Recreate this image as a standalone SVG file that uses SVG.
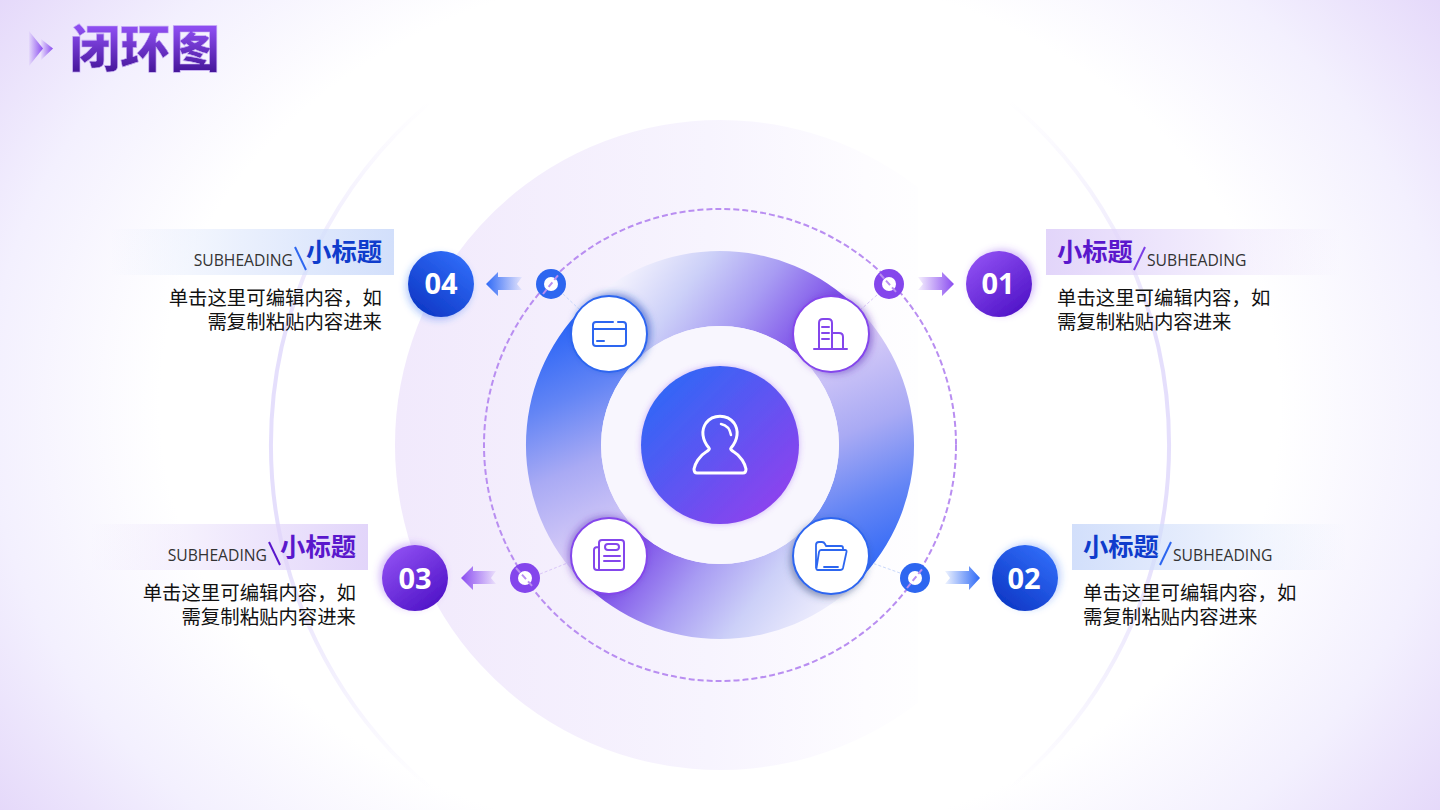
<svg xmlns="http://www.w3.org/2000/svg" width="1440" height="810" viewBox="0 0 1440 810">
<defs>
<radialGradient id="bg" gradientUnits="userSpaceOnUse" cx="0" cy="0" r="1" gradientTransform="translate(720 405) scale(1018 800)">
<stop offset="0.55" stop-color="#fff"/><stop offset="0.72" stop-color="#f3f0fe"/><stop offset="0.87" stop-color="#e5d9fa"/>
</radialGradient>
<linearGradient id="pale" gradientUnits="userSpaceOnUse" x1="395" y1="0" x2="918" y2="0">
<stop offset="0" stop-color="#f1e9fc"/><stop offset="0.6" stop-color="#f7f4fe"/><stop offset="0.9" stop-color="#fdfcff"/><stop offset="1" stop-color="#fefeff"/>
</linearGradient>
<linearGradient id="ring" gradientUnits="userSpaceOnUse" x1="0" y1="100" x2="0" y2="790">
<stop offset="0" stop-color="#e8e2fc" stop-opacity="0"/><stop offset="0.35" stop-color="#e5dffc"/><stop offset="0.65" stop-color="#e5dffc"/><stop offset="1" stop-color="#e8e2fc" stop-opacity="0"/>
</linearGradient>
<linearGradient id="segT" gradientUnits="userSpaceOnUse" x1="618" y1="262" x2="780" y2="383"><stop offset="0" stop-color="#f9f7fe"/><stop offset="0.35" stop-color="#ccd0f8"/><stop offset="0.65" stop-color="#a89cf3"/><stop offset="1" stop-color="#7a4ae8"/></linearGradient>
<linearGradient id="segR" gradientUnits="userSpaceOnUse" x1="830" y1="340" x2="923" y2="554"><stop offset="0" stop-color="#dccff8"/><stop offset="0.4" stop-color="#a9aaf4"/><stop offset="0.7" stop-color="#6385f5"/><stop offset="1" stop-color="#2d66f6"/></linearGradient>
<linearGradient id="segB" gradientUnits="userSpaceOnUse" x1="822" y1="628" x2="660" y2="507"><stop offset="0" stop-color="#f1f0fd"/><stop offset="0.35" stop-color="#ccd0f8"/><stop offset="0.65" stop-color="#a89cf3"/><stop offset="1" stop-color="#7a4ae8"/></linearGradient>
<linearGradient id="segL" gradientUnits="userSpaceOnUse" x1="610" y1="550" x2="522" y2="345"><stop offset="0" stop-color="#dccff8"/><stop offset="0.4" stop-color="#a9aaf4"/><stop offset="0.7" stop-color="#6385f5"/><stop offset="1" stop-color="#2d66f6"/></linearGradient>
<linearGradient id="core" x1="0.15" y1="0.15" x2="0.85" y2="0.85"><stop offset="0" stop-color="#3466f6"/><stop offset="1" stop-color="#8a43ee"/></linearGradient>
<linearGradient id="numP" x1="0.2" y1="0.1" x2="0.8" y2="0.9"><stop offset="0" stop-color="#8c4cf0"/><stop offset="1" stop-color="#5216c9"/></linearGradient>
<linearGradient id="numB" x1="0.8" y1="0.1" x2="0.2" y2="0.9"><stop offset="0" stop-color="#2f6af6"/><stop offset="1" stop-color="#0f3ac8"/></linearGradient>
<linearGradient id="title" gradientUnits="userSpaceOnUse" x1="0" y1="28" x2="0" y2="72"><stop offset="0" stop-color="#8d4df0"/><stop offset="1" stop-color="#46169a"/></linearGradient>
<linearGradient id="chev" x1="0" y1="0" x2="1" y2="0"><stop offset="0" stop-color="#8a4cf0" stop-opacity="0.05"/><stop offset="1" stop-color="#8a4cf0"/></linearGradient>
<linearGradient id="barPR" x1="0" y1="0" x2="1" y2="0"><stop offset="0" stop-color="#e2d5fa"/><stop offset="1" stop-color="#e2d5fa" stop-opacity="0"/></linearGradient>
<linearGradient id="barBR" x1="0" y1="0" x2="1" y2="0"><stop offset="0" stop-color="#d2dffb"/><stop offset="1" stop-color="#d2dffb" stop-opacity="0"/></linearGradient>
<linearGradient id="barPL" x1="1" y1="0" x2="0" y2="0"><stop offset="0" stop-color="#e2d5fa"/><stop offset="1" stop-color="#e2d5fa" stop-opacity="0"/></linearGradient>
<linearGradient id="barBL" x1="1" y1="0" x2="0" y2="0"><stop offset="0" stop-color="#d2dffb"/><stop offset="1" stop-color="#d2dffb" stop-opacity="0"/></linearGradient>
<linearGradient id="arrPR" x1="0" y1="0" x2="1" y2="0"><stop offset="0" stop-color="#8a4cf0" stop-opacity="0.08"/><stop offset="1" stop-color="#8a4cf0"/></linearGradient>
<linearGradient id="arrBR" x1="0" y1="0" x2="1" y2="0"><stop offset="0" stop-color="#2f6af6" stop-opacity="0.08"/><stop offset="1" stop-color="#2f6af6"/></linearGradient>
<linearGradient id="arrPL" x1="1" y1="0" x2="0" y2="0"><stop offset="0" stop-color="#8a4cf0" stop-opacity="0.08"/><stop offset="1" stop-color="#8a4cf0"/></linearGradient>
<linearGradient id="arrBL" x1="1" y1="0" x2="0" y2="0"><stop offset="0" stop-color="#2f6af6" stop-opacity="0.08"/><stop offset="1" stop-color="#2f6af6"/></linearGradient>
<filter id="glowP1" x="-40%" y="-40%" width="180%" height="180%"><feDropShadow dx="3" dy="-2" stdDeviation="3.500" flood-color="#8a4cf0" flood-opacity="0.35"/></filter>
<filter id="glowB2" x="-40%" y="-40%" width="180%" height="180%"><feDropShadow dx="3" dy="-2" stdDeviation="3.500" flood-color="#2f6af6" flood-opacity="0.3"/></filter>
<filter id="glowP3" x="-40%" y="-40%" width="180%" height="180%"><feDropShadow dx="-3" dy="-2" stdDeviation="3.500" flood-color="#8a4cf0" flood-opacity="0.35"/></filter>
<filter id="glowB4" x="-40%" y="-40%" width="180%" height="180%"><feDropShadow dx="-2" dy="3" stdDeviation="3.500" flood-color="#2f6af6" flood-opacity="0.35"/></filter>
<filter id="ic1" x="-40%" y="-40%" width="180%" height="180%"><feDropShadow dx="3" dy="1" stdDeviation="3.500" flood-color="#5a2bb8" flood-opacity="0.5"/></filter>
<filter id="ic2" x="-40%" y="-40%" width="180%" height="180%"><feDropShadow dx="-2" dy="3" stdDeviation="3.500" flood-color="#33467a" flood-opacity="0.5"/></filter>
<filter id="ic3" x="-40%" y="-40%" width="180%" height="180%"><feDropShadow dx="-2" dy="-1" stdDeviation="3.500" flood-color="#5a2bb8" flood-opacity="0.5"/></filter>
<filter id="ic4" x="-40%" y="-40%" width="180%" height="180%"><feDropShadow dx="3" dy="-2" stdDeviation="3.500" flood-color="#1f48c0" flood-opacity="0.55"/></filter>
<filter id="coreGlow" x="-20%" y="-20%" width="140%" height="140%"><feDropShadow dx="0" dy="0" stdDeviation="3" flood-color="#8a4cf0" flood-opacity="0.4"/></filter>
</defs>
<style>
text{font-family:"Noto Sans CJK SC","Noto Sans",sans-serif}
.head{font-size:25.300px;font-weight:700}
.sub{font-family:"Open Sans","Noto Sans",sans-serif;font-size:15.700px;fill:#333}
.body{font-size:19.400px;fill:#111}
.num{font-family:"Open Sans","Noto Sans",sans-serif;font-size:29px;font-weight:700;fill:#fff;text-anchor:middle}
.icS{fill:none;stroke-width:2;stroke-linecap:round;stroke-linejoin:round}
.link{fill:none;stroke-width:1;stroke-dasharray:3 2}
.slash{stroke-width:2;fill:none}
.dash{stroke:#b98ef1;stroke-width:2;stroke-dasharray:6 3;fill:none}
.r{text-anchor:end}
</style>
<rect width="1440" height="810" fill="url(#bg)"/>
<g id="backdrop">
<path d="M 429 103 A 449 449 0 0 0 429 787" fill="none" stroke="url(#ring)" stroke-width="4"/>
<path d="M 1011 103 A 449 449 0 0 1 1011 787" fill="none" stroke="url(#ring)" stroke-width="4"/>
<path d="M918 187.300V702.700A325 325 0 1 1 918 187.300Z" fill="url(#pale)"/>
<path d="M582.8 307.8A194 194 0 0 1 857.2 307.8L804.1 360.9A119 119 0 0 0 635.9 360.9Z" fill="url(#segT)"/>
<path d="M857.2 307.8A194 194 0 0 1 857.2 582.2L804.1 529.1A119 119 0 0 0 804.1 360.9Z" fill="url(#segR)"/>
<path d="M857.2 582.2A194 194 0 0 1 582.8 582.2L635.9 529.1A119 119 0 0 0 804.1 529.1Z" fill="url(#segB)"/>
<path d="M582.8 582.2A194 194 0 0 1 582.8 307.8L635.9 360.9A119 119 0 0 0 635.9 529.1Z" fill="url(#segL)"/>
<circle cx="720" cy="445" r="119" fill="#f8f6fe"/>
<circle cx="720" cy="445" r="236" class="dash"/>
</g>
<g id="connectors">
<path class="link" d="M877 295L858 312" stroke="#d9c6f8"/>
<path class="link" d="M900 573L872 563" stroke="#c9d8fb"/>
<path class="link" d="M540 574L570 562" stroke="#d9c6f8"/>
<path class="link" d="M563 294L579 309" stroke="#c9d8fb"/>
<path d="M918 277H942V272L954 284L942 296V290H918L923 284Z" fill="url(#arrPR)"/>
<path d="M945 571H969V566L980 578L969 590V584H945L950 578Z" fill="url(#arrBR)"/>
<path d="M522 277H498V272L486 284L498 296V290H522L517 284Z" fill="url(#arrBL)"/>
<path d="M496 571H473V566L461 578L473 590V584H496L491 578Z" fill="url(#arrPL)"/>
</g>
<g id="title-group">
<path d="M29 31L43 48.500L29 66Z" fill="url(#chev)"/>
<path d="M41 39L53 48.500L41 60Z" fill="url(#chev)"/>
<text x="70" y="67" font-size="50" font-weight="900" fill="url(#title)" stroke="#c9b3f5" stroke-width="0.6">闭环图</text>
</g>
<g id="center-node">
<circle cx="720" cy="445" r="79" fill="url(#core)" filter="url(#coreGlow)"/>
<path class="icS" stroke="#fff" style="stroke-width:3" d="M709 448C702 440 701 430 706 423C713 414 727 414 734 423C739 430 738 440 731 448C730 449 732 451 734 452C741 456 745 464 746 469C746 472 745 473 743 473H697C695 473 694 472 694 469C695 464 699 456 706 452C708 451 710 449 709 448Z"/>
<path class="icS" stroke="#fff" style="stroke-width:2.500" d="M721 424C726 425 730 429 731 435"/>
</g>
<g id="icon-01">
<circle cx="831" cy="334" r="38" fill="#fff" stroke="#8446ec" stroke-width="2" filter="url(#ic1)"/>
<path class="icS" stroke="#8446ec" d="M814 349H847M819 349V323Q819 319 823 319H828Q832 319 832 323V349M832 333H839Q843 333 843 337V349M822 327H829M822 333H829M822 339H829"/>
</g>
<g id="icon-02">
<circle cx="831" cy="556" r="38" fill="#fff" stroke="#2d66f0" stroke-width="2" filter="url(#ic2)"/>
<path class="icS" stroke="#2d66f0" style="stroke-width:1.800" d="M816 568V545Q816 542 819 542H822Q824 542 825 544L826 546H841Q843 546 843 548V550M821 550H845Q847 550 846.500 552L843 568Q842.500 570 840 570H818Q816 570 816.500 568L819 552Q819.500 550 821 550ZM824 567H838"/>
</g>
<g id="icon-03">
<circle cx="609" cy="556" r="38" fill="#fff" stroke="#8446ec" stroke-width="2" filter="url(#ic3)"/>
<path class="icS" stroke="#8446ec" d="M599 570V543Q599 540 602 540H621Q624 540 624 543V567Q624 570 621 570H597Q594 570 594 567V550Q594 547 598 547M604 556H620M604 561H620"/>
<rect class="icS" stroke="#8446ec" x="605" y="544" width="14" height="6" rx="3"/>
</g>
<g id="icon-04">
<circle cx="609" cy="334" r="38" fill="#fff" stroke="#2d66f0" stroke-width="2" filter="url(#ic4)"/>
<path class="icS" stroke="#2d66f0" d="M613 322H596Q593 322 593 325V343Q593 346 596 346H623Q626 346 626 343V325Q626 322 623 322H618M593 329H626M597 341H604"/>
</g>
<g id="node-01">
<circle cx="889" cy="284" r="15" fill="#8446ec"/><circle cx="889" cy="284" r="7" fill="#fff"/>
<path d="M880 274L898 294" class="dash"/>
<circle cx="999" cy="284" r="33" fill="url(#numP)" filter="url(#glowP1)"/>
<text class="num" x="998" y="294">01</text>
<rect x="1046" y="229" width="295" height="46" fill="url(#barPR)"/>
<text class="head" x="1057" y="261" fill="#5a17cc">小标题</text>
<path d="M1145 247L1134 270" stroke="#7c3ee6" class="slash"/>
<text class="sub" x="1147" y="266">SUBHEADING</text>
<text class="body" x="1057" y="305">单击这里可编辑内容，如</text>
<text class="body" x="1057" y="329">需复制粘贴内容进来</text>
</g>
<g id="node-02">
<circle cx="915" cy="578" r="15" fill="#2d66f0"/><circle cx="915" cy="578" r="7" fill="#fff"/>
<path d="M907 588L923 568" class="dash"/>
<circle cx="1025" cy="578" r="33" fill="url(#numB)" filter="url(#glowB2)"/>
<text class="num" x="1024" y="589">02</text>
<rect x="1072" y="524" width="275" height="46" fill="url(#barBR)"/>
<text class="head" x="1083" y="556" fill="#0f3ccc">小标题</text>
<path d="M1171 542L1160 565" stroke="#2d66f0" class="slash"/>
<text class="sub" x="1173" y="561">SUBHEADING</text>
<text class="body" x="1083" y="600">单击这里可编辑内容，如</text>
<text class="body" x="1083" y="624">需复制粘贴内容进来</text>
</g>
<g id="node-03">
<circle cx="525" cy="578" r="15" fill="#8446ec"/><circle cx="525" cy="578" r="7" fill="#fff"/>
<path d="M516 568L534 588" class="dash"/>
<circle cx="415" cy="578" r="33" fill="url(#numP)" filter="url(#glowP3)"/>
<text class="num" x="415" y="589">03</text>
<rect x="90" y="524" width="278" height="46" fill="url(#barPL)"/>
<text class="head r" x="356" y="556" fill="#5a17cc">小标题</text>
<path d="M269 542L280 565" stroke="#5a17cc" class="slash"/>
<text class="sub r" x="267" y="561">SUBHEADING</text>
<text class="body r" x="356" y="600">单击这里可编辑内容，如</text>
<text class="body r" x="356" y="624">需复制粘贴内容进来</text>
</g>
<g id="node-04">
<circle cx="551" cy="284" r="15" fill="#2d66f0"/><circle cx="551" cy="284" r="7" fill="#fff"/>
<path d="M543 294L559 274" class="dash"/>
<circle cx="441" cy="284" r="33" fill="url(#numB)" filter="url(#glowB4)"/>
<text class="num" x="441" y="294">04</text>
<rect x="110" y="229" width="284" height="46" fill="url(#barBL)"/>
<text class="head r" x="382" y="261" fill="#0f3ccc">小标题</text>
<path d="M295 247L306 270" stroke="#2d66f0" class="slash"/>
<text class="sub r" x="293" y="266">SUBHEADING</text>
<text class="body r" x="382" y="305">单击这里可编辑内容，如</text>
<text class="body r" x="382" y="329">需复制粘贴内容进来</text>
</g>
</svg>
